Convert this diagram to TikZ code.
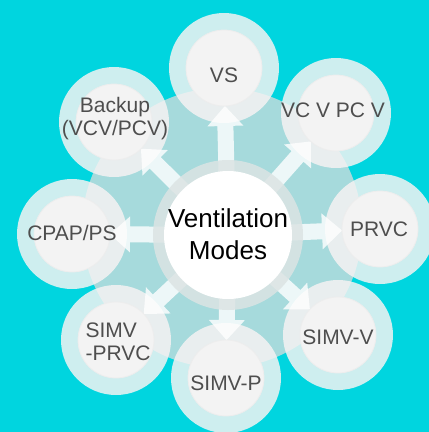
\documentclass[tikz,border=0pt]{standalone}
\usepackage{fontspec}
\setmainfont{Liberation Sans}
\usetikzlibrary{calc}
\definecolor{bgcyan}{RGB}{0,213,223}
\definecolor{disccol}{RGB}{166,218,220}
\definecolor{cring}{RGB}{220,228,228}
\definecolor{ringcol}{RGB}{246,243,243}
\definecolor{satin}{RGB}{243,243,243}
\definecolor{sattext}{RGB}{78,78,78}
\tikzset{
  satring/.style={circle, fill=ringcol, fill opacity=0.84, minimum size=110pt, inner sep=0pt},
  satcore/.style={circle, fill=satin, minimum size=76pt, inner sep=0pt, draw=black!7, line width=0.8pt},
  sattxt/.style={text=sattext, font=\fontsize{21}{23}\selectfont, align=center, inner sep=0pt},
  flowarrow/.style={fill=white, fill opacity=0.8},
}
\newcommand\modearrow[1]{%
  \fill[flowarrow]
    ($(c.center)!60pt!(#1.center)!8pt!90:(#1.center)$) --
    ($(#1.center)!58pt!(c.center)!8pt!-90:(c.center)$) --
    ($(#1.center)!58pt!(c.center)!18pt!-90:(c.center)$) --
    ($(#1.center)!38pt!(c.center)$) --
    ($(#1.center)!58pt!(c.center)!18pt!90:(c.center)$) --
    ($(#1.center)!58pt!(c.center)!8pt!90:(c.center)$) --
    ($(c.center)!60pt!(#1.center)!8pt!-90:(#1.center)$) -- cycle;}
\begin{document}
\begin{tikzpicture}[x=1pt,y=-1pt]
  \useasboundingbox (0,0) rectangle (429,432);
  \fill[bgcyan] (0,0) rectangle (429,432);
  \fill[disccol] (222,228) circle (140);
  % centre anchor
  \coordinate (c) at (228,235);
  % satellite rings
  \node[satring] (vs)    at (224,68)  {};
  \node[satring] (vcv)   at (336,113) {};
  \node[satring] (prvc)  at (380,229) {};
  \node[satring] (simvv) at (338,335) {};
  \node[satring] (simvp) at (226,378) {};
  \node[satring] (simvpr) at (116,340) {};
  \node[satring] (cpap)  at (72,234)  {};
  \node[satring] (backup) at (114,122) {};
  % arrows
  \foreach \s in {vs,vcv,prvc,simvv,simvp,simvpr,cpap,backup}{\modearrow{\s}}
  % centre
  \node[circle, fill=cring, fill opacity=0.85, minimum size=150pt, inner sep=0pt] (cr) at (c) {};
  \node[circle, fill=white, minimum size=128pt, inner sep=0pt] (cw) at (c) {};
  \node[font=\fontsize{26}{32}\selectfont, align=center, inner sep=0pt] (ct) at (228,234) {Ventilation\\Modes};
  % satellite cores
  \foreach \s in {vs,vcv,prvc,simvv,simvp,simvpr,cpap,backup}{\node[satcore] (\s-core) at (\s.center) {};}
  % satellite texts
  \node[sattxt] (vs-t)    at (224,75)  {VS};
  \node[sattxt] (vcv-t)   at (333,110) {VC V PC V};
  \node[sattxt] (prvc-t)  at (379,229) {PRVC};
  \node[sattxt] (simvv-t) at (338,337) {SIMV-V};
  \node[sattxt] (simvp-t) at (226,383) {SIMV-P};
  \node[sattxt, align=left] (simvpr-t) at (118,342) {SIMV\\-PRVC};
  \node[sattxt] (cpap-t)  at (72,233)  {CPAP/PS};
  \node[sattxt] (backup-t) at (115,119) {Backup\\(VCV/PCV)};
\end{tikzpicture}
\end{document}
